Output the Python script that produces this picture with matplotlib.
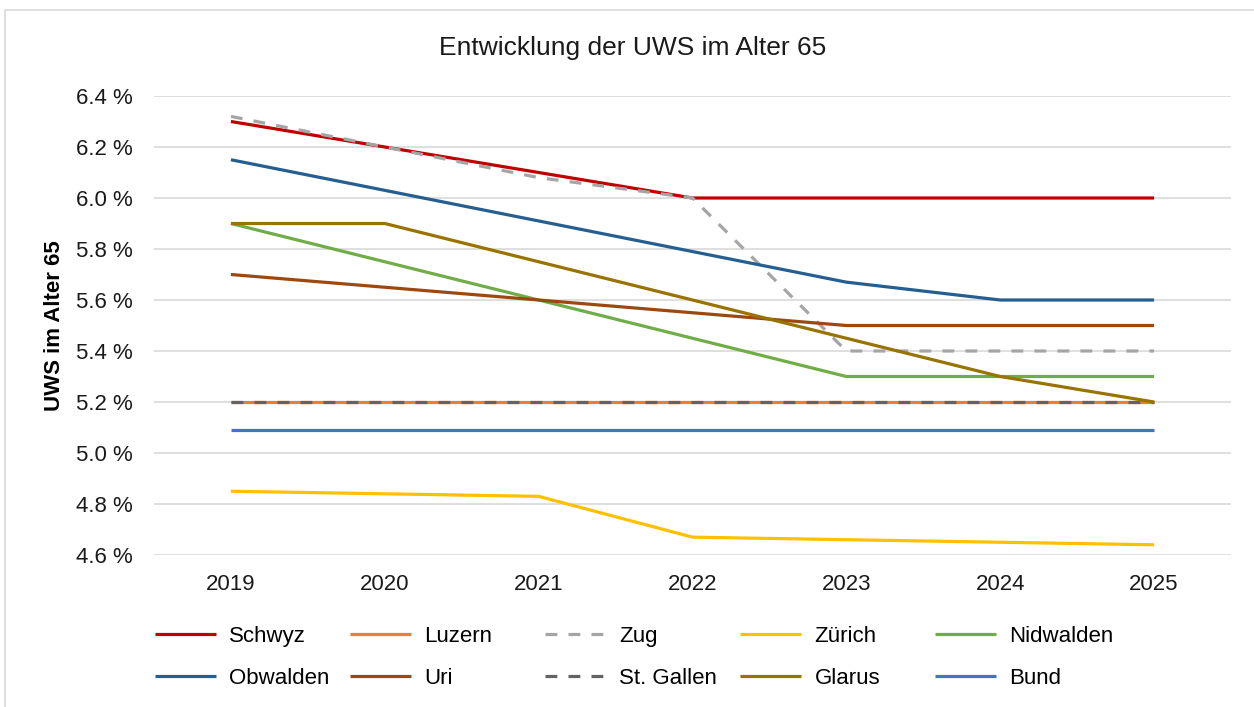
import matplotlib
matplotlib.use("Agg")
import matplotlib.pyplot as plt
from matplotlib.patches import Rectangle
from matplotlib.ticker import FuncFormatter

years = ["2019", "2020", "2021", "2022", "2023", "2024", "2025"]

schwyz = [6.30, 6.20, 6.10, 6.00, 6.00, 6.00, 6.00]
luzern = [5.20, 5.20, 5.20, 5.20, 5.20, 5.20, 5.20]
zug = [6.32, 6.20, 6.08, 6.00, 5.40, 5.40, 5.40]
zuerich = [4.85, 4.84, 4.83, 4.67, 4.66, 4.65, 4.64]
nidwalden = [5.90, 5.75, 5.60, 5.45, 5.30, 5.30, 5.30]
obwalden = [6.15, 6.03, 5.91, 5.79, 5.67, 5.60, 5.60]
uri = [5.70, 5.65, 5.60, 5.55, 5.50, 5.50, 5.50]
stgallen = [5.20, 5.20, 5.20, 5.20, 5.20, 5.20, 5.20]
glarus = [5.90, 5.90, 5.75, 5.60, 5.45, 5.30, 5.20]
bund = [5.09, 5.09, 5.09, 5.09, 5.09, 5.09, 5.09]

names = ["Schwyz", "Luzern", "Zug", "Zürich", "Nidwalden",
         "Obwalden", "Uri", "St. Gallen", "Glarus", "Bund"]
series = [schwyz, luzern, zug, zuerich, nidwalden,
          obwalden, uri, stgallen, glarus, bund]
colors = ["#C00000", "#ED7D31", "#A5A5A5", "#FFC000", "#70AD47",
          "#255E91", "#9E480E", "#636363", "#997300", "#4472C4"]
dashed = ["Zug", "St. Gallen"]

plt.rcParams['font.family'] = ['Liberation Sans', 'DejaVu Sans']

W, H = 1254, 707
fig = plt.figure(figsize=(W / 100, H / 100), dpi=100)
ax = fig.add_axes([154 / W, 1 - 555 / H, (1231 - 154) / W, (555 - 96) / H])

x = list(range(len(years)))
handles = []
for name, vals, c in zip(names, series, colors):
    ls = (0, (3.7, 3.5)) if name in dashed else '-'
    ln, = ax.plot(x, vals, color=c, lw=2.3, ls=ls, label=name,
                  solid_capstyle='butt', dash_capstyle='butt')
    handles.append(ln)

ax.set_xlim(-0.5, 6.5)
ax.set_ylim(4.6, 6.4)
ax.set_yticks([4.6 + 0.2 * i for i in range(10)])
ax.yaxis.set_major_formatter(FuncFormatter(lambda v, p: f"{v:.1f} %"))
ax.set_xticks(x)
ax.set_xticklabels(years)
ax.tick_params(axis='both', length=0, labelsize=16, colors='#1a1a1a')
ax.tick_params(axis='y', pad=15)
ax.tick_params(axis='x', pad=14)
ax.grid(axis='y', color='#D9D9D9', lw=1.2)
ax.set_axisbelow(True)
for s in ax.spines.values():
    s.set_visible(False)

ax.set_ylabel("UWS im Alter 65", fontsize=16, fontweight='bold')
ax.yaxis.set_label_coords(-0.083, 0.5)

fig.text(633 / W, 1 - 48 / H, "Entwicklung der UWS im Alter 65",
         fontsize=19, ha='center', va='center', color='#1a1a1a')

# Legende: 5 Spalten mit gleichem Abstand wie im Original
for i in range(5):
    fig.legend([handles[i], handles[i + 5]], [names[i], names[i + 5]],
               loc='upper left', bbox_to_anchor=((155 + 195 * i) / W, 1 - 626 / H),
               frameon=False, borderpad=0, borderaxespad=0,
               handlelength=2.75, handletextpad=0.6, labelspacing=0.95,
               prop={'size': 16})

fig.patches.append(Rectangle((5 / W, -0.1), 1.2, 1.1 - 10 / H,
                             transform=fig.transFigure, fill=False,
                             edgecolor='#D9D9D9', lw=1.2))

fig.savefig("out.png", dpi=100)
